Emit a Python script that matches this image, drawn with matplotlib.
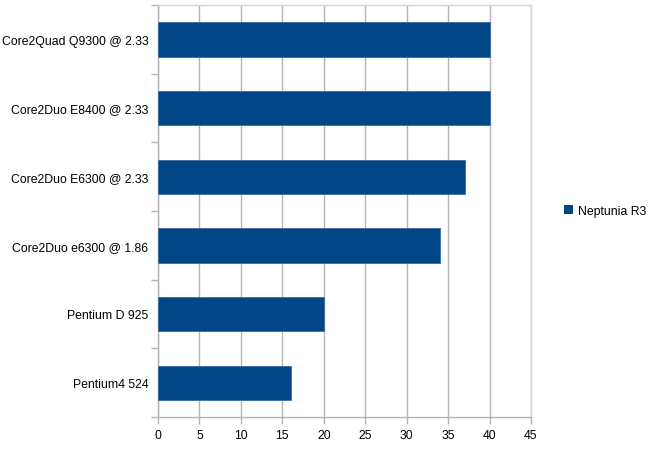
import matplotlib.pyplot as plt
from matplotlib.patches import Patch

# data (top to bottom as in the chart)
cpus = ["Core2Quad Q9300 @ 2.33", "Core2Duo E8400 @ 2.33", "Core2Duo E6300 @ 2.33",
        "Core2Duo e6300 @ 1.86", "Pentium D 925", "Pentium4 524"]
scores = [40, 40, 37, 34, 20, 16]
serie = "Neptunia R3"
xticks = [0, 5, 10, 15, 20, 25, 30, 35, 40, 45]

plt.rcParams['font.family'] = ['Liberation Sans', 'DejaVu Sans']
azul = "#004586"
cinza = "#b3b3b3"
fs = 8.8

fig = plt.figure(figsize=(6.56, 4.52), dpi=100)
ax = fig.add_axes([158/656, 1 - 418/452, (531 - 158)/656, (418 - 6)/452])

n = len(cpus)
pos = [n - 1 - i for i in range(n)]
ax.barh(pos, scores, height=0.5, color=azul, edgecolor="#3a6fa8", linewidth=0.6, zorder=3)

ax.set_xlim(0, 45)
ax.set_ylim(-0.5, n - 0.5)
ax.set_xticks(xticks)
ax.set_xticklabels([str(v) for v in xticks], fontsize=fs)

# categorias: rotulos no centro, tracos nas divisoes
ax.set_yticks(pos)
ax.set_yticklabels(cpus, fontsize=fs)
ax.tick_params(axis='y', which='major', length=0, pad=7)
ax.set_yticks([k - 0.5 for k in range(n + 1)], minor=True)
ax.tick_params(axis='y', which='minor', length=5, color=cinza, width=1)
ax.tick_params(axis='x', length=5, color=cinza, width=1, pad=4)

ax.grid(axis='x', color=cinza, linewidth=1, zorder=0)
for lado in ['left', 'bottom']:
    ax.spines[lado].set_color(cinza)
    ax.spines[lado].set_linewidth(1)
for lado in ['top', 'right']:
    ax.spines[lado].set_color("#d4d4d4")
    ax.spines[lado].set_linewidth(1)

ax.legend(handles=[Patch(facecolor=azul, label=serie)], loc='center left',
          bbox_to_anchor=(1.06, 0.5), frameon=False, fontsize=fs,
          handlelength=0.7, handleheight=0.7, handletextpad=0.4)

fig.savefig("out.png", dpi=100)
